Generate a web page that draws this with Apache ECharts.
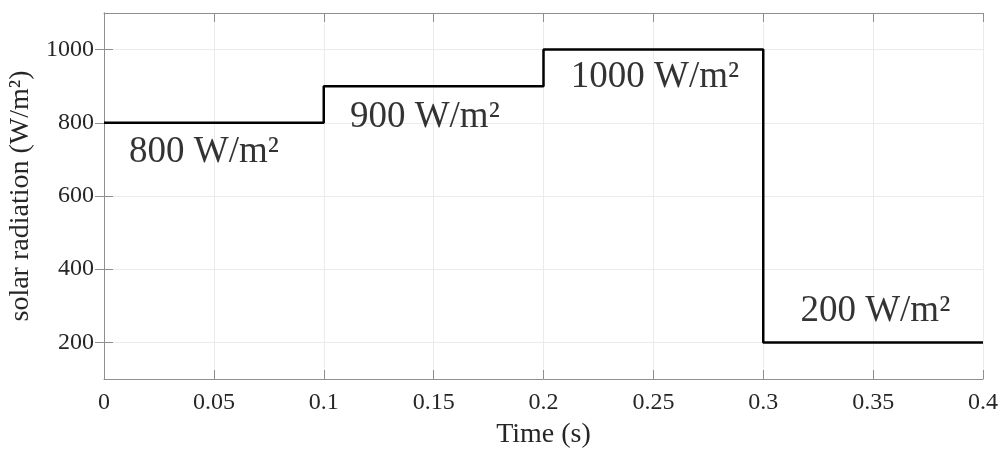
<!DOCTYPE html>
<html>
<head>
<meta charset="utf-8">
<script src="https://cdn.jsdelivr.net/npm/echarts@6/dist/echarts.min.js"></script>
<style>
  html, body { margin: 0; padding: 0; background: #fff; }
  #chart { width: 1002px; height: 453px; }
</style>
</head>
<body>
<div id="chart"></div>
<script>
// step input: radiation holds each value until the next time point
var time = [0, 0.1, 0.2, 0.3, 0.4]
var radiation = [800, 900, 1000, 200, 200]
var yTicks = [200, 400, 600, 800, 1000]

// text annotations (data coords)
var labelX = [0.0455, 0.146, 0.2507, 0.351]
var labelY = [719, 815, 924, 285]
var labelText = ['800 W/m²', '900 W/m²', '1000 W/m²', '200 W/m²']

var font = '"Liberation Serif", "Times New Roman", serif'
var boxColor = '#8f8f8f'
var gridColor = '#ebebeb'
var textColor = '#262626'

var chart = echarts.init(document.getElementById('chart'))

var stepData = time.map(function (t, i) { return [t, radiation[i]] })
var labelData = labelX.map(function (x, i) { return { value: [x, labelY[i]], name: labelText[i] } })

var tickIn = { show: true, inside: true, length: 9, lineStyle: { color: boxColor } }
var plain = function (v) { return String(v) }

chart.setOption({
  animation: false,
  grid: { left: 104, top: 13, right: 19, bottom: 74, containLabel: false, outerBoundsMode: 'none' },
  xAxis: [{
    type: 'value',
    min: 0,
    max: 0.4,
    interval: 0.05,
    name: 'Time (s)',
    nameLocation: 'middle',
    nameGap: 42,
    nameTextStyle: { fontFamily: font, fontSize: 28, color: textColor },
    axisLine: { show: true, onZero: false, lineStyle: { color: boxColor, width: 1 } },
    axisTick: tickIn,
    axisLabel: { fontFamily: font, fontSize: 24, color: textColor, margin: 12, formatter: plain },
    splitLine: { show: true, lineStyle: { color: gridColor, width: 1 } }
  }, {
    type: 'value',
    position: 'top',
    min: 0,
    max: 0.4,
    interval: 0.05,
    axisLine: { show: true, lineStyle: { color: boxColor, width: 1 } },
    axisTick: tickIn,
    axisLabel: { show: false },
    splitLine: { show: false }
  }],
  yAxis: [{
    type: 'value',
    min: 100,
    max: 1100,
    name: 'solar radiation (W/m²)',
    nameLocation: 'middle',
    nameGap: 66,
    nameTextStyle: { fontFamily: font, fontSize: 28, color: textColor },
    axisLine: { show: true, onZero: false, lineStyle: { color: boxColor, width: 1 } },
    axisTick: { show: true, inside: true, length: 9, customValues: yTicks, lineStyle: { color: boxColor } },
    axisLabel: { fontFamily: font, fontSize: 24, color: textColor, margin: 10, customValues: yTicks, formatter: plain },
    splitLine: { show: true, lineStyle: { color: gridColor, width: 1 } }
  }, {
    type: 'value',
    position: 'right',
    min: 100,
    max: 1100,
    axisLine: { show: true, lineStyle: { color: boxColor, width: 1 } },
    axisTick: { show: true, inside: true, length: 9, customValues: yTicks, lineStyle: { color: boxColor } },
    axisLabel: { show: false },
    splitLine: { show: false }
  }],
  series: [{
    type: 'line',
    step: 'end',
    data: stepData,
    symbol: 'none',
    lineStyle: { color: '#000', width: 2.5 },
    z: 3
  }, {
    type: 'scatter',
    data: labelData,
    symbolSize: 0,
    silent: true,
    label: {
      show: true,
      position: 'inside',
      formatter: '{b}',
      fontFamily: font,
      fontSize: 37,
      color: '#000'
    },
    z: 4
  }]
})
</script>
</body>
</html>
